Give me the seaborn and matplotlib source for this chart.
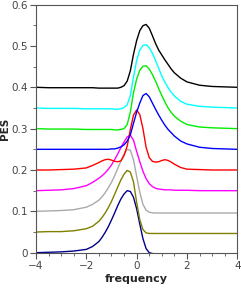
import numpy as np
import pandas as pd
import matplotlib
matplotlib.use("Agg")
import matplotlib.pyplot as plt
import seaborn as sns
from matplotlib.ticker import MultipleLocator

# shared frequency grid (finer around the peaks)
freq = [-4, -3.5, -3, -2.5, -2, -1.75,
        -1.5, -1.375, -1.25, -1.125, -1, -0.875, -0.75, -0.625, -0.5, -0.375, -0.25, -0.125,
        0, 0.125, 0.25, 0.375, 0.5, 0.625, 0.75, 0.875, 1, 1.125, 1.25, 1.375, 1.5,
        1.75, 2, 2.5, 3, 3.5, 4]

# values above each curve's baseline
pes_navy = [0, 0.001, 0.002, 0.004, 0.008, 0.015,
            0.027, 0.037, 0.049, 0.063, 0.079, 0.096, 0.114, 0.13, 0.142, 0.15, 0.148, 0.134,
            0.106, 0.069, 0.034, 0.01, 0.0, -0.002, -0.003, -0.003, -0.003, -0.003, -0.003,
            -0.003, -0.003,
            -0.003, -0.003, -0.003, -0.003, -0.003, -0.003]
pes_olive = [0, 0.001, 0.001, 0.003, 0.008, 0.014,
             0.026, 0.035, 0.046, 0.059, 0.074, 0.091, 0.109, 0.126, 0.14, 0.149, 0.145, 0.121,
             0.072, 0.03, 0.006, -0.002, -0.0035, -0.0035, -0.0035, -0.0035, -0.0035, -0.0035,
             -0.0035, -0.0035, -0.0035,
             -0.0035, -0.0035, -0.0035, -0.0035, -0.0035, -0.0035]
pes_gray = [0, 0.001, 0.002, 0.004, 0.01, 0.017,
            0.027, 0.035, 0.045, 0.057, 0.07, 0.086, 0.104, 0.122, 0.139, 0.15, 0.148, 0.125,
            0.085, 0.046, 0.017, 0.003, -0.002, -0.0035, -0.004, -0.004, -0.004, -0.004,
            -0.004, -0.004, -0.004,
            -0.004, -0.004, -0.004, -0.004, -0.004, -0.004]
pes_magenta = [0, 0.001, 0.002, 0.005, 0.012, 0.02,
               0.03, 0.036, 0.043, 0.052, 0.062, 0.075, 0.089, 0.104, 0.118, 0.13, 0.134, 0.122,
               0.095, 0.07, 0.047, 0.029, 0.017, 0.01, 0.006, 0.004, 0.003, 0.002, 0.002,
               0.002, 0.001,
               0.001, 0.001, 0, 0, 0, 0]
pes_red = [0, 0, 0.001, 0.002, 0.005, 0.011,
           0.018, 0.022, 0.025, 0.026, 0.024, 0.021, 0.02, 0.022, 0.035, 0.058, 0.098, 0.133,
           0.145, 0.134, 0.1, 0.055, 0.03, 0.021, 0.019, 0.02, 0.023, 0.025, 0.023, 0.019,
           0.014,
           0.006, 0.002, 0.001, 0, 0, 0]
pes_blue = [0, 0, 0, 0, 0, 0,
            0, 0, 0, 0, 0.001, 0.001, 0.003, 0.006, 0.011, 0.02, 0.035, 0.063,
            0.09, 0.112, 0.13, 0.135, 0.127, 0.112, 0.097, 0.083, 0.07, 0.058, 0.048, 0.04,
            0.032,
            0.02, 0.013, 0.005, 0.002, 0.001, 0]
pes_green = [0, -0.001, -0.001, -0.001, -0.002, -0.002,
             -0.002, -0.002, -0.002, -0.002, -0.002, -0.003, -0.003, -0.002, 0.0, 0.01, 0.04,
             0.087,
             0.12, 0.141, 0.151, 0.152, 0.144, 0.131, 0.115, 0.097, 0.08, 0.064, 0.05, 0.039,
             0.03,
             0.018, 0.01, 0.004, 0.002, 0.001, 0]
pes_cyan = [0, -0.001, -0.001, -0.001, -0.002, -0.002,
            -0.002, -0.002, -0.002, -0.002, -0.002, -0.003, -0.003, -0.002, 0.001, 0.008, 0.03,
            0.075,
            0.115, 0.14, 0.151, 0.153, 0.146, 0.132, 0.115, 0.096, 0.077, 0.062, 0.049, 0.038,
            0.029,
            0.016, 0.009, 0.004, 0.002, 0.001, 0]
pes_black = [0, -0.001, -0.001, -0.001, -0.001, -0.001,
             -0.002, -0.002, -0.002, -0.002, -0.002, -0.002, -0.002, 0.0, 0.004, 0.015, 0.04,
             0.08,
             0.113, 0.137, 0.149, 0.152, 0.143, 0.125, 0.106, 0.09, 0.078, 0.066, 0.055, 0.044,
             0.035,
             0.022, 0.013, 0.005, 0.002, 0.001, 0]

offsets = [0, 0.05, 0.1, 0.15, 0.2, 0.25, 0.3, 0.35, 0.4]
colors = ["#00008b", "#808000", "#aaaaaa", "#ff00ff", "#ff0000", "#0000ff",
          "#00ee00", "#00ffff", "#000000"]
curves = [pes_navy, pes_olive, pes_gray, pes_magenta, pes_red,
          pes_blue, pes_green, pes_cyan, pes_black]

sns.set_style("white")
plt.rcParams["font.family"] = ["DejaVu Sans"]

fig = plt.figure(figsize=(2.41, 2.89), dpi=100)
ax = fig.add_axes([0.149, 0.1256, 0.836, 0.8585])

for ys, off, col in zip(curves, offsets, colors):
    df = pd.DataFrame({"frequency": freq, "PES": np.array(ys) + off})
    sns.lineplot(data=df, x="frequency", y="PES", color=col, linewidth=1.0,
                 sort=False, ax=ax)

ax.set_xlim(-4, 4)
ax.set_ylim(0, 0.6)
ax.xaxis.set_minor_locator(MultipleLocator(0.5))
ax.yaxis.set_minor_locator(MultipleLocator(0.05))
ax.set_yticks([0, 0.1, 0.2, 0.3, 0.4, 0.5, 0.6])
ax.set_yticklabels(["0", "0.1", "0.2", "0.3", "0.4", "0.5", "0.6"])
ax.set_xticks([-4, -2, 0, 2, 4])
ax.set_xticklabels(["\u22124", "\u22122", "0", "2", "4"])

edge = "#555555"
for sp in ax.spines.values():
    sp.set_color(edge)
    sp.set_linewidth(0.8)
ax.tick_params(which="major", direction="out", length=4, width=0.8, color=edge,
               labelcolor="#444444", labelsize=7.5, pad=2,
               bottom=True, left=True, top=False, right=False)
ax.tick_params(which="minor", direction="out", length=2, width=0.6, color=edge,
               bottom=True, left=True, top=False, right=False)

ax.set_xlabel("frequency", fontsize=8, fontweight="bold", labelpad=2)
ax.set_ylabel("PES", fontsize=7.5, fontweight="bold", labelpad=0.5)

fig.savefig("out.png", dpi=100)
